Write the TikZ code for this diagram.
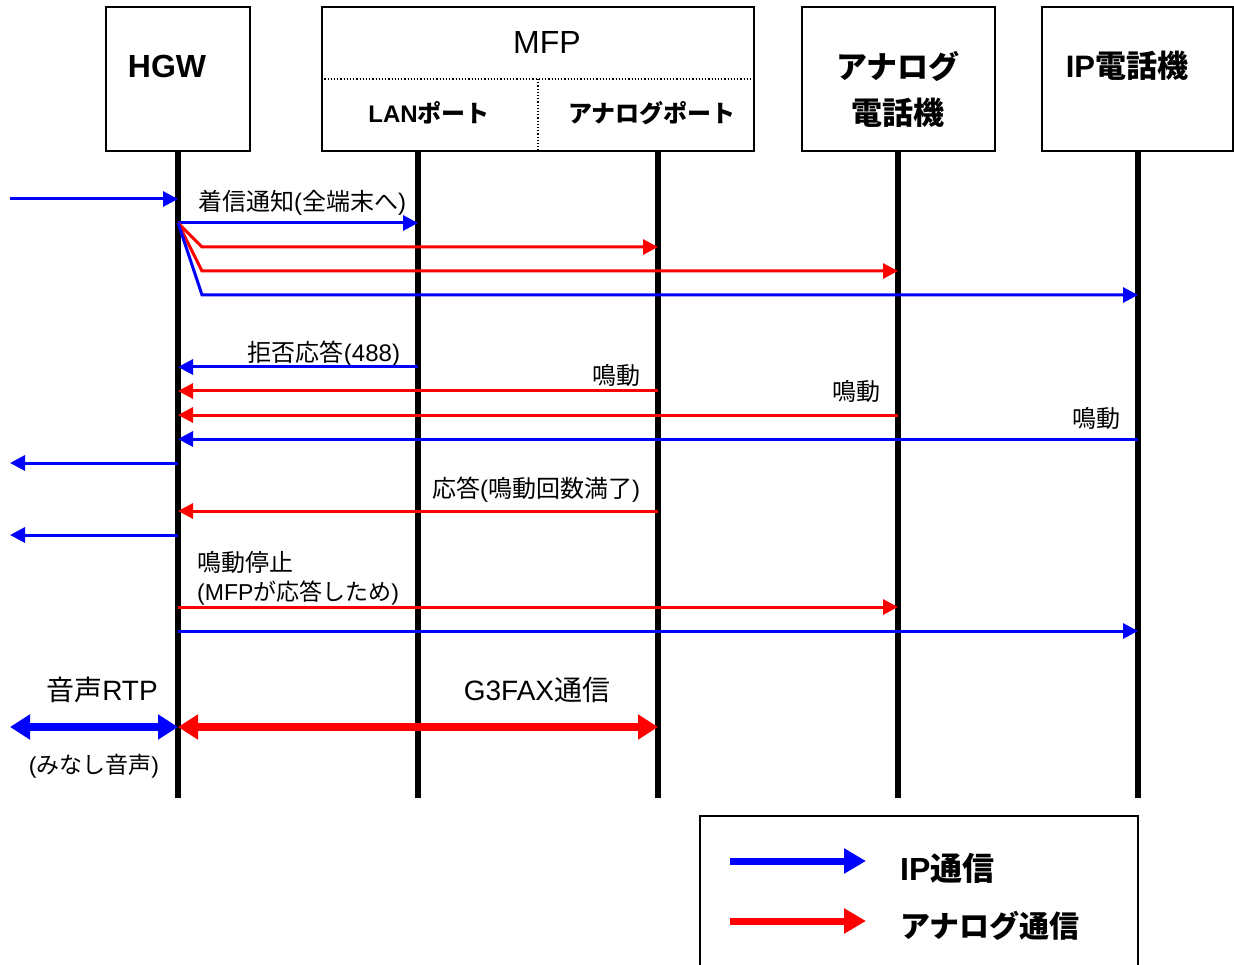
\documentclass[tikz,border=0pt]{standalone}
\usepackage{fontspec}
\setmainfont{Liberation Sans}
\newfontfamily\jp{Noto Sans CJK JP}
\usetikzlibrary{arrows.meta}
\definecolor{ipb}{RGB}{0,0,255}
\definecolor{anr}{RGB}{255,0,0}
\begin{document}
\begin{tikzpicture}[x=1pt,y=-1pt,
  box/.style={draw, line width=1.6pt, inner sep=0pt},
  life/.style={line width=6pt},
  lbl/.style={inner sep=0pt, font=\fontsize{24}{28}\selectfont},
  med/.style={inner sep=0pt, font=\fontsize{28}{32}\selectfont},
  ttl/.style={inner sep=0pt, font=\fontsize{31}{35}\selectfont\bfseries},
  sub/.style={inner sep=0pt, font=\fontsize{24}{28}\selectfont\bfseries},
  msgb/.style={draw=ipb, line width=3pt, -{Triangle[length=15pt,width=15pt]}},
  msgr/.style={draw=anr, line width=3pt, -{Triangle[length=15pt,width=15pt]}},
  bigb/.style={draw=ipb, line width=8pt, {Triangle[length=20pt,width=24pt]}-{Triangle[length=20pt,width=24pt]}},
  bigr/.style={draw=anr, line width=8pt, {Triangle[length=20pt,width=24pt]}-{Triangle[length=20pt,width=24pt]}},
  legb/.style={draw=ipb, line width=7pt, -{Triangle[length=22pt,width=24pt]}},
  legr/.style={draw=anr, line width=7pt, -{Triangle[length=22pt,width=24pt]}}
]
\useasboundingbox (0,0) rectangle (1234,965);

% boxes
\node[box, minimum width=144pt, minimum height=144pt] (hgw) at (178,79) {};
\node[box, minimum width=432pt, minimum height=144pt] (mfp) at (538,79) {};
\node[box, minimum width=193pt, minimum height=144pt] (anp) at (898.5,79) {};
\node[box, minimum width=191pt, minimum height=144pt] (ipp) at (1137.5,79) {};
\draw[dotted, line width=1.2pt] (mfp.west |- 0,79) -- (mfp.east |- 0,79);
\draw[dotted, line width=1.2pt] (538,79) -- (mfp.south -| 538,0);

\node[inner sep=0pt, font=\fontsize{32}{36}\selectfont\bfseries] (thgw) at (167,66) {HGW};
\node[inner sep=0pt, font=\fontsize{32}{36}\selectfont] (tmfp) at (547,42) {MFP};
\node[sub] (tlan) at (429,113) {LAN{\jp ポート}};
\node[sub] (tanport) at (652,113) {\jp アナログポート};
\node[ttl] (tanp1) at (898,66) {\jp アナログ};
\node[ttl] (tanp2) at (898,113) {\jp 電話機};
\node[ttl] (tipp) at (1127,66) {IP{\jp 電話機}};

% lifelines
\coordinate (hgwT) at (178,151); \coordinate (hgwB) at (178,798);
\coordinate (lanT) at (418,151); \coordinate (lanB) at (418,798);
\coordinate (aptT) at (658,151); \coordinate (aptB) at (658,798);
\coordinate (anpT) at (898,151); \coordinate (anpB) at (898,798);
\coordinate (ippT) at (1138,151); \coordinate (ippB) at (1138,798);
\coordinate (ext) at (10,0);
\foreach \n in {hgw,lan,apt,anp,ipp} \draw[life] (\n T) -- (\n B);

% incoming call
\draw[msgb] (ext |- 0,199) -- (hgwT |- 0,199);
\node[lbl] (l1) at (302,203) {{\jp 着信通知}({\jp 全端末へ})};
\coordinate (fan) at (178,223);
\draw[msgb] (fan) -- (lanT |- 0,223);
\draw[msgr] (fan) -- (202,247) -- (aptT |- 0,247);
\draw[msgr] (fan) -- (202,271) -- (anpT |- 0,271);
\draw[msgb] (fan) -- (202,295) -- (ippT |- 0,295);

% responses
\node[lbl] (l2) at (324,354) {{\jp 拒否応答}(488)};
\draw[msgb] (lanT |- 0,367) -- (hgwT |- 0,367);
\node[lbl] (l3) at (616,375) {\jp 鳴動};
\draw[msgr] (aptT |- 0,391) -- (hgwT |- 0,391);
\node[lbl] (l4) at (856,391) {\jp 鳴動};
\draw[msgr] (anpT |- 0,415) -- (hgwT |- 0,415);
\node[lbl] (l5) at (1096,418) {\jp 鳴動};
\draw[msgb] (ippT |- 0,439) -- (hgwT |- 0,439);
\draw[msgb] (hgwT |- 0,463) -- (ext |- 0,463);

\node[lbl] (l6) at (536,490) {{\jp 応答}({\jp 鳴動回数満了})};
\draw[msgr] (aptT |- 0,511) -- (hgwT |- 0,511);
\draw[msgb] (hgwT |- 0,535) -- (ext |- 0,535);

\node[lbl, anchor=west] (l7) at (197,562) {\jp 鳴動停止};
\node[lbl, anchor=west, font=\fontsize{23}{27}\selectfont] (l8) at (197,593) {(MFP{\jp が応答しため})};
\draw[msgr] (hgwT |- 0,607) -- (anpT |- 0,607);
\draw[msgb] (hgwT |- 0,631) -- (ippT |- 0,631);

% media
\node[med] (l9) at (102,690) {{\jp 音声}RTP};
\draw[bigb] (ext |- 0,727) -- (hgwT |- 0,727);
\node[lbl, font=\fontsize{23}{27}\selectfont] (l10) at (94,766) {({\jp みなし音声})};
\node[med] (l11) at (537,690) {G3FAX{\jp 通信}};
\draw[bigr] (hgwT |- 0,727) -- (aptT |- 0,727);

% legend
\draw[line width=1.6pt] (700,968) -- (700,816) -- (1138,816) -- (1138,968);
\coordinate (lb1) at (730,861); \coordinate (le1) at (866,861);
\coordinate (lb2) at (730,921); \coordinate (le2) at (866,921);
\draw[legb] (lb1) -- (le1);
\draw[legr] (lb2) -- (le2);
\node[inner sep=0pt, anchor=west, font=\fontsize{32}{36}\selectfont\bfseries] (lg1) at (900,868) {IP{\jp 通信}};
\node[inner sep=0pt, anchor=west, font=\fontsize{30}{34}\selectfont\bfseries] (lg2) at (900,926) {\jp アナログ通信};
\end{tikzpicture}
\end{document}
